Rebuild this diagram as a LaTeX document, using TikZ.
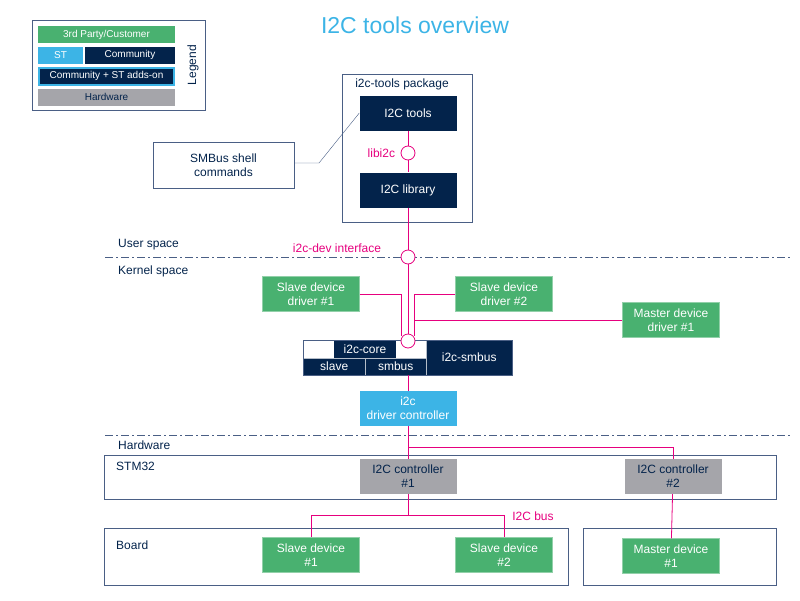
\documentclass[tikz,border=0pt]{standalone}
\usepackage{fontspec}
\setmainfont{Liberation Sans}
\usetikzlibrary{positioning}
\definecolor{navy}{HTML}{03234B}
\definecolor{stgreen}{HTML}{49B170}
\definecolor{stblue}{HTML}{3CB4E6}
\definecolor{hwgrey}{HTML}{A5A5AA}
\definecolor{bus}{HTML}{E6007E}
\definecolor{frame}{HTML}{4A5F85}
\begin{document}
\begin{tikzpicture}[x=1pt, y=-1pt, font=\fontsize{12}{14}\selectfont,
  blk/.style={rectangle, inner sep=0pt, align=center, text=white, minimum width=97pt, minimum height=35pt},
  green/.style={blk, fill=stgreen, draw=stgreen!60!white},
  dark/.style={blk, fill=navy},
  light/.style={blk, fill=stblue},
  grey/.style={blk, fill=hwgrey, text=navy},
  frm/.style={draw=frame, thick},
  txt/.style={text=navy, anchor=west, inner sep=0pt},
  link/.style={draw=bus, thick},
  joint/.style={circle, draw=bus, thick, fill=white, minimum size=14pt, inner sep=0pt},
  sep/.style={draw=frame, thick, dash pattern=on 8pt off 3pt on 2pt off 3pt},
  leg/.style={rectangle, inner sep=0pt, font=\fontsize{10}{12}\selectfont, text=white, minimum height=17pt}]

    \useasboundingbox (0,0) rectangle (800,600);

    % legend
    \draw[frm] (32,20) rectangle (205,110);
    \node[leg, fill=stgreen, minimum width=137pt] (lthird) at (106.5,34.5) {3rd Party/Customer};
    \node[leg, fill=stblue, minimum width=45pt] (lst) at (60.5,55) {ST};
    \node[leg, fill=navy, minimum width=90pt] (lcomm) at (130,55) {Community};
    \node[leg, fill=navy, draw=stblue, line width=2pt, minimum width=135pt] (ladd) at (106.5,76) {Community + ST adds-on};
    \node[leg, fill=hwgrey, text=navy, minimum width=137pt] (lhw) at (106.5,97) {Hardware};
    \node[text=navy, rotate=90, inner sep=0pt] (legend) at (193,65) {Legend};

    \node[text=stblue, font=\fontsize{23}{26}\selectfont] (title) at (415,25) {I2C tools overview};

    % user space
    \draw[frm] (342,74) rectangle (472,222);
    \node[text=navy] (pkg) at (402,84) {i2c-tools package};
    \node[dark] (tools) at (408,113) {I2C tools};
    \node[dark] (lib) at (408,190) {I2C library};
    \node[joint] (libi2c) at (408,153) {};
    \node[text=bus, left=2pt of libi2c] {libi2c};
    \node[draw=frame, thick, text=navy, minimum width=141pt, minimum height=46pt, align=center] (smbus) at (223.5,165) {SMBus shell\\commands};
    \coordinate (bend) at (319,163);
    \draw[frame] (smbus.east |- bend) -- (bend) -- (tools.west);
    \draw[link] (tools) -- (libi2c) -- (lib);

    \draw[sep] (105,257) -- (790,257);
    \draw[sep] (105,435) -- (790,435);
    \node[txt] at (118,245) {User space};
    \node[txt] at (118,271) {Kernel space};
    \node[txt] at (118,445) {Hardware};

    \node[joint] (dev) at (408,257) {};
    \node[text=bus] at (337,248) {i2c-dev interface};
    \draw[link] (lib) -- (dev);

    % kernel space
    \node[green] (sdd1) at (311,294) {Slave device\\driver \#1};
    \node[green] (sdd2) at (504,294) {Slave device\\driver \#2};
    \node[green] (mdd1) at (671,320) {Master device\\driver \#1};

    \node[dark, minimum width=62pt, minimum height=18pt] (core) at (365,349) {i2c-core};
    \node[dark, minimum width=62pt, minimum height=17pt, anchor=north west] (slave) at (303,358) {slave};
    \node[dark, minimum width=61pt, minimum height=17pt, anchor=north west] (smb) at (365,358) {smbus};
    \node[dark, minimum width=86pt, minimum height=35pt, anchor=north west] (csmbus) at (426,340) {i2c-smbus};
    \draw[white!70!navy] (303,358) -- (426,358) (365,358) -- (365,375) (426,340) -- (426,375);
    \draw[frame] (303,340) rectangle (512,375);

    \coordinate (l1) at (401,294);
    \coordinate (l2) at (414,294);
    \draw[link] (sdd1.east) -- (l1) -- (401,336);
    \draw[link] (sdd2.west) -- (l2) -- (414,336);
    \draw[link] (mdd1.west) -- (414,320);
    \draw[link] (dev) -- (408,334);
    \node[joint] (corejoint) at (408,341) {};

    \node[light] (drv) at (408,408.5) {i2c\\driver controller};
    \draw[link] (408,375) -- (drv);

    % hardware
    \draw[frm] (104,455) rectangle (776,499);
    \node[txt] at (106,466) {\hspace{10pt}STM32};
    \node[grey] (ctl1) at (408,476.5) {I2C controller\\\#1};
    \node[grey] (ctl2) at (673,476.5) {I2C controller\\\#2};
    \coordinate (split) at (408,447);
    \draw[link] (drv) -- (ctl1);
    \draw[link] (split) -| (ctl2);

    \draw[frm] (104,528) rectangle (568,585);
    \draw[frm] (583,528) rectangle (776,585);
    \node[txt] at (106,545) {\hspace{10pt}Board};
    \node[green] (sd1) at (311,555) {Slave device\\\#1};
    \node[green] (sd2) at (504,555) {Slave device\\\#2};
    \node[green] (md1) at (671,556) {Master device\\\#1};

    \coordinate (busj) at (408,515);
    \draw[link] (ctl1) -- (busj) -| (sd1);
    \draw[link] (busj) -| (sd2);
    \draw[link] (ctl2) -- (md1);
    \node[text=bus] at (533,516) {I2C bus};

  \end{tikzpicture}
\end{document}
